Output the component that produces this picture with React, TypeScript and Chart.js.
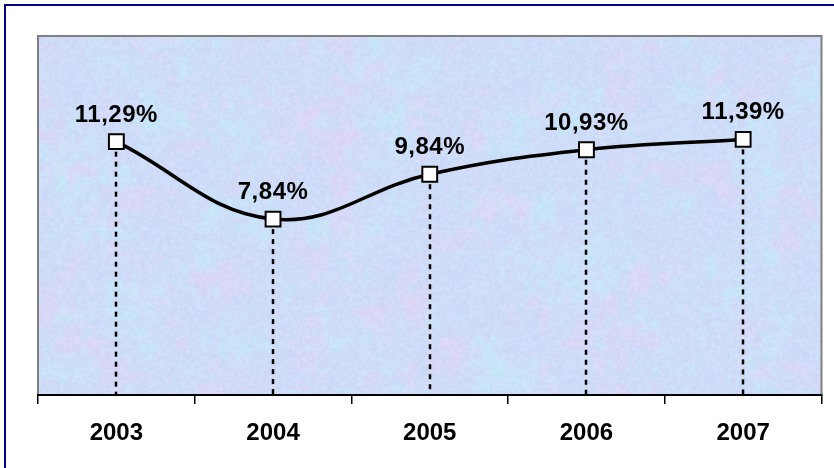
import React, { useEffect, useRef } from "react";
import { Chart, registerables } from "chart.js";

Chart.register(...registerables);

const years = ["2003", "2004", "2005", "2006", "2007"];
const rates = [11.29, 7.84, 9.84, 10.93, 11.39];
const yMin = 0;
const yMax = 16;

const fmt = (v: number) => v.toFixed(2).replace(".", ",") + "%";

function hash(i: number, j: number, s: number) {
  const v = Math.sin(i * 127.1 + j * 311.7 + s * 74.7) * 43758.5453;
  return v - Math.floor(v);
}
function vnoise(x: number, y: number, cell: number, s: number) {
  const gx = x / cell, gy = y / cell;
  const i = Math.floor(gx), j = Math.floor(gy);
  const fx = gx - i, fy = gy - j;
  const ux = fx * fx * (3 - 2 * fx), uy = fy * fy * (3 - 2 * fy);
  const a = hash(i, j, s), b = hash(i + 1, j, s), c = hash(i, j + 1, s), d = hash(i + 1, j + 1, s);
  return a + (b - a) * ux + (c - a) * uy + (a - b - c + d) * ux * uy;
}

let texCache: HTMLCanvasElement | null = null;
function getTexture(w: number, h: number) {
  if (texCache && texCache.width === w && texCache.height === h) return texCache;
  const c = document.createElement("canvas");
  c.width = w; c.height = h;
  const g = c.getContext("2d")!;
  const img = g.createImageData(w, h);
  for (let y = 0; y < h; y++) {
    for (let x = 0; x < w; x++) {
      const pink = vnoise(x, y, 34, 1) * 0.55 + vnoise(x, y, 11, 2) * 0.45;
      const cyan = vnoise(x, y, 28, 3) * 0.55 + vnoise(x, y, 8, 4) * 0.45;
      const fine = vnoise(x, y, 2.5, 5) - 0.5;
      let r = 206, gg = 220, b = 248;
      const p = Math.max(0, pink - 0.5) * 2;
      const q = Math.max(0, cyan - 0.5) * 2;
      r += p * 18 - q * 10 + fine * 8;
      gg += -p * 8 + q * 12 + fine * 8;
      b += -p * 2 + fine * 5;
      const k = (y * w + x) * 4;
      img.data[k] = Math.min(255, r);
      img.data[k + 1] = Math.min(255, gg);
      img.data[k + 2] = Math.min(255, b);
      img.data[k + 3] = 255;
    }
  }
  g.putImageData(img, 0, 0);
  texCache = c;
  return c;
}

const deco = {
  id: "deco",
  beforeDraw(chart: any) {
    const { ctx, chartArea: a, width, height } = chart;
    ctx.save();
    ctx.fillStyle = "#ffffff";
    ctx.fillRect(0, 0, width, height);
    ctx.strokeStyle = "#000080";
    ctx.lineWidth = 2;
    ctx.strokeRect(5, 5, width + 20, height + 20);
    const aw = Math.round(a.right - a.left), ah = Math.round(a.bottom - a.top);
    ctx.drawImage(getTexture(aw, ah), a.left, a.top, aw, ah);
    ctx.strokeStyle = "#808080";
    ctx.lineWidth = 2;
    ctx.strokeRect(a.left, a.top, a.right - a.left, a.bottom - a.top);
    ctx.restore();
  },
  beforeDatasetsDraw(chart: any) {
    const { ctx, chartArea: a } = chart;
    const meta = chart.getDatasetMeta(0);
    ctx.save();
    ctx.strokeStyle = "#000000";
    ctx.lineWidth = 2.5;
    ctx.setLineDash([5, 5]);
    meta.data.forEach((pt: any) => {
      ctx.beginPath();
      ctx.moveTo(Math.round(pt.x), pt.y);
      ctx.lineTo(Math.round(pt.x), a.bottom);
      ctx.stroke();
    });
    ctx.restore();
  },
  afterDatasetsDraw(chart: any) {
    const { ctx } = chart;
    const meta = chart.getDatasetMeta(0);
    ctx.save();
    ctx.fillStyle = "#000000";
    ctx.font = "bold 24px 'Liberation Sans', Arial, sans-serif";
    (ctx as any).letterSpacing = "0.5px";
    ctx.textAlign = "center";
    ctx.textBaseline = "alphabetic";
    meta.data.forEach((pt: any, i: number) => {
      ctx.fillText(fmt(rates[i]), pt.x, pt.y - 20);
    });
    ctx.restore();
  },
};

export default function App() {
  const ref = useRef<HTMLCanvasElement | null>(null);
  useEffect(() => {
    if (!ref.current) return;
    const chart = new Chart(ref.current, {
      type: "line",
      data: {
        labels: years,
        datasets: [
          {
            data: rates,
            borderColor: "#000000",
            borderWidth: 3.5,
            tension: 0.4,
            pointStyle: "rect",
            pointRadius: 10.5,
            pointBackgroundColor: "#ffffff",
            pointBorderColor: "#000000",
            pointBorderWidth: 2,
            fill: false,
          },
        ],
      },
      options: {
        animation: false,
        responsive: false,
        maintainAspectRatio: false,
        layout: { padding: { left: 38, top: 36, right: 6, bottom: 0 } },
        plugins: { legend: { display: false }, tooltip: { enabled: false } },
        scales: {
          x: {
            offset: true,
            grid: {
              offset: true,
              drawOnChartArea: false,
              drawTicks: true,
              tickLength: 9,
              color: "#000000",
              lineWidth: 1.5,
            },
            border: { color: "#000000", width: 2 },
            ticks: {
              color: "#000000",
              padding: 15,
              font: { family: "'Liberation Sans', Arial, sans-serif", size: 24, weight: "bold" },
            },
            afterFit(scale: any) {
              scale.height = 73;
            },
          },
          y: {
            display: false,
            min: yMin,
            max: yMax,
          },
        },
      },
      plugins: [deco],
    } as any);
    return () => chart.destroy();
  }, []);
  return (
    <div style={{ position: "fixed", left: 0, top: 0, width: 834, height: 468 }}>
      <canvas ref={ref} width={834} height={468} style={{ width: 834, height: 468 }} />
    </div>
  );
}
